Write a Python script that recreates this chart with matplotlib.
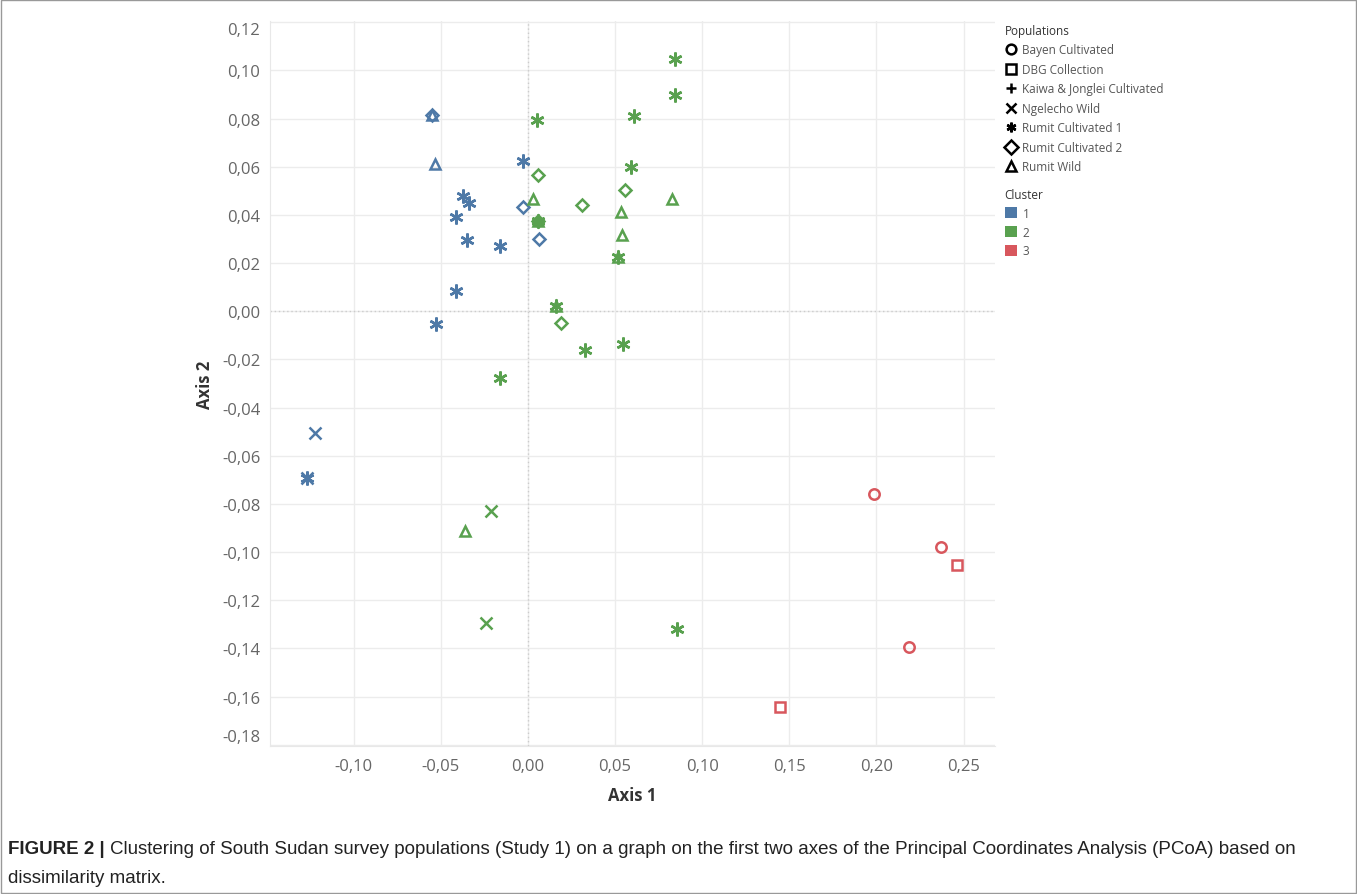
import numpy as np
import matplotlib.pyplot as plt
from matplotlib.lines import Line2D
from matplotlib.patches import Patch, Rectangle
from matplotlib.ticker import FuncFormatter

# PCoA coordinates
pc1 = [-0.0548, -0.0548, -0.0534, -0.0027, -0.0372, -0.0337, -0.0030, -0.0410,
       0.0065, -0.0349, -0.0161, -0.0410, -0.0529, -0.1224, -0.1268, -0.1268,
       0.0050, 0.0059, 0.0030, 0.0309, 0.0059, 0.0059, 0.0059, 0.0059,
       0.0161, 0.0161, 0.0190, 0.0590, 0.0559, 0.0829, 0.0536, 0.0542,
       0.0517, 0.0517, 0.0330, 0.0548, 0.0841, 0.0845, 0.0611, -0.0161,
       -0.0362, -0.0213, -0.0241, 0.0856,
       0.1985, 0.2372, 0.2464, 0.2186, 0.1448]
pc2 = [0.0816, 0.0816, 0.0613, 0.0625, 0.0480, 0.0450, 0.0432, 0.0392,
       0.0302, 0.0295, 0.0270, 0.0084, -0.0054, -0.0506, -0.0693, -0.0693,
       0.0792, 0.0567, 0.0467, 0.0442, 0.0374, 0.0374, 0.0374, 0.0374,
       0.0022, 0.0022, -0.0047, 0.0599, 0.0505, 0.0467, 0.0413, 0.0316,
       0.0226, 0.0226, -0.0161, -0.0137, 0.1048, 0.0899, 0.0809, -0.0277,
       -0.0914, -0.0831, -0.1293, -0.1321,
       -0.0758, -0.0979, -0.1052, -0.1393, -0.1645]
population = ["RW", "RC2", "RW", "RC1", "RC1", "RC1", "RC2", "RC1",
              "RC2", "RC1", "RC1", "RC1", "RC1", "NW", "RC1", "NW",
              "RC1", "RC2", "RW", "RC2", "RW", "RC2", "KJ", "RC1",
              "RW", "RC1", "RC2", "RC1", "RC2", "RW", "RW", "RW",
              "RW", "RC1", "RC1", "RC1", "RC1", "RC1", "RC1", "RC1",
              "RW", "NW", "NW", "RC1",
              "BC", "BC", "DBG", "BC", "DBG"]
cluster = [1] * 16 + [2] * 28 + [3] * 5

pop_codes = ["BC", "DBG", "KJ", "NW", "RC1", "RC2", "RW"]
pop_names = ["Bayen Cultivated", "DBG Collection", "Kaiwa & Jonglei Cultivated",
             "Ngelecho Wild", "Rumit Cultivated 1", "Rumit Cultivated 2", "Rumit Wild"]
cluster_names = ["1", "2", "3"]

markers = {"BC": "o", "DBG": "s", "KJ": "+", "NW": "x",
           "RC1": (6, 2, 0), "RC2": "D", "RW": "^"}
msizes = {"BC": 7.5, "DBG": 7, "KJ": 9, "NW": 8, "RC1": 10, "RC2": 6.5, "RW": 7.5}
colors = {1: "#4e79a7", 2: "#59a14f", 3: "#d8575d"}

plt.rcParams['font.family'] = ['Open Sans', 'DejaVu Sans']

fig = plt.figure(figsize=(13.57, 8.95), dpi=100)
ax = fig.add_axes([270 / 1357, 1 - 747 / 895, 725 / 1357, 725 / 895])

for x, y, p, c in zip(pc1, pc2, population, cluster):
    m = markers[p]
    filled = m in ("+", "x") or isinstance(m, tuple)
    ax.plot(x, y, linestyle="none", marker=m, markersize=msizes[p],
            markerfacecolor=colors[c] if filled else "none",
            markeredgecolor=colors[c], markeredgewidth=1.8, zorder=3)

ax.set_xlim(-0.148, 0.268)
ax.set_ylim(-0.1805, 0.1205)
ax.set_xticks(np.arange(-0.10, 0.26, 0.05))
ax.set_yticks(np.arange(-0.18, 0.121, 0.02))
fmt = FuncFormatter(lambda v, pos: ("%.2f" % (0.0 if abs(v) < 1e-9 else v)).replace(".", ","))
ax.xaxis.set_major_formatter(fmt)
ax.yaxis.set_major_formatter(fmt)
ax.tick_params(length=0, labelsize=12, labelcolor="#666666")
ax.tick_params(axis="y", pad=7)
ax.tick_params(axis="x", pad=9)
ylabels = ax.get_yticklabels()
ylabels[-1].set_va("top")
ylabels[0].set_va("bottom")

ax.grid(True, color="#ececec", linewidth=1)
ax.axhline(0, color="#cccccc", linewidth=1, linestyle=(0, (1, 2)), zorder=1)
ax.axvline(0, color="#cccccc", linewidth=1, linestyle=(0, (1, 2)), zorder=1)
ax.set_axisbelow(True)
for s in ["top", "right"]:
    ax.spines[s].set_visible(False)
for s in ["left", "bottom"]:
    ax.spines[s].set_color("#e8e8e8")

ax.set_xlabel("Axis 1", fontsize=12, fontweight="bold", color="#333333", labelpad=8)
ax.set_ylabel("Axis 2", fontsize=12, fontweight="bold", color="#333333", labelpad=6)

# legends
pop_handles = [Line2D([], [], linestyle="none", marker=markers[c], markersize=7,
                      markerfacecolor="none" if markers[c] in ("o", "s", "D", "^") else "black",
                      markeredgecolor="black", markeredgewidth=1.8) for c in pop_codes]
leg1 = fig.legend(pop_handles, pop_names, title="Populations", loc="upper left",
                  bbox_to_anchor=(1000 / 1357, 1 - 20 / 895), frameon=False,
                  fontsize=8.5, title_fontsize=8.5, alignment="left",
                  handlelength=1.0, handletextpad=0.5, labelspacing=0.55, borderaxespad=0)
for t in leg1.get_texts():
    t.set_color("#555555")
leg1.get_title().set_color("#333333")

cl_handles = [Patch(facecolor=colors[i + 1], edgecolor="none") for i in range(3)]
leg2 = fig.legend(cl_handles, cluster_names, title="Cluster", loc="upper left",
                  bbox_to_anchor=(1000 / 1357, 1 - 184 / 895), frameon=False,
                  fontsize=8.5, title_fontsize=8.5, alignment="left",
                  handlelength=1.0, handleheight=1.0, handletextpad=0.5,
                  labelspacing=0.5, borderaxespad=0)
for t in leg2.get_texts():
    t.set_color("#555555")
leg2.get_title().set_color("#333333")

# caption
cap_font = ['Liberation Sans Narrow', 'Liberation Sans', 'DejaVu Sans']
cap_y1, cap_y2 = 1 - 850 / 895, 1 - 879 / 895
t1 = fig.text(8 / 1357, cap_y1, "FIGURE 2 |", fontsize=13.5, fontweight="bold",
              family=cap_font, va="center", color="#222222")
fig.canvas.draw()
bb = t1.get_window_extent()
fig.text((bb.x1 + 5) / 1357, cap_y1,
         "Clustering of South Sudan survey populations (Study 1) on a graph on the first two axes "
         "of the Principal Coordinates Analysis (PCoA) based on",
         fontsize=13.5, family=cap_font, va="center", color="#222222")
fig.text(8 / 1357, cap_y2, "dissimilarity matrix.", fontsize=13.5,
         family=cap_font, va="center", color="#222222")

fig.patches.append(Rectangle((1 / 1357, 1 / 895), 1355 / 1357, 893 / 895,
                             transform=fig.transFigure, fill=False,
                             edgecolor="#999999", linewidth=1))

fig.savefig("out.png", dpi=100)
